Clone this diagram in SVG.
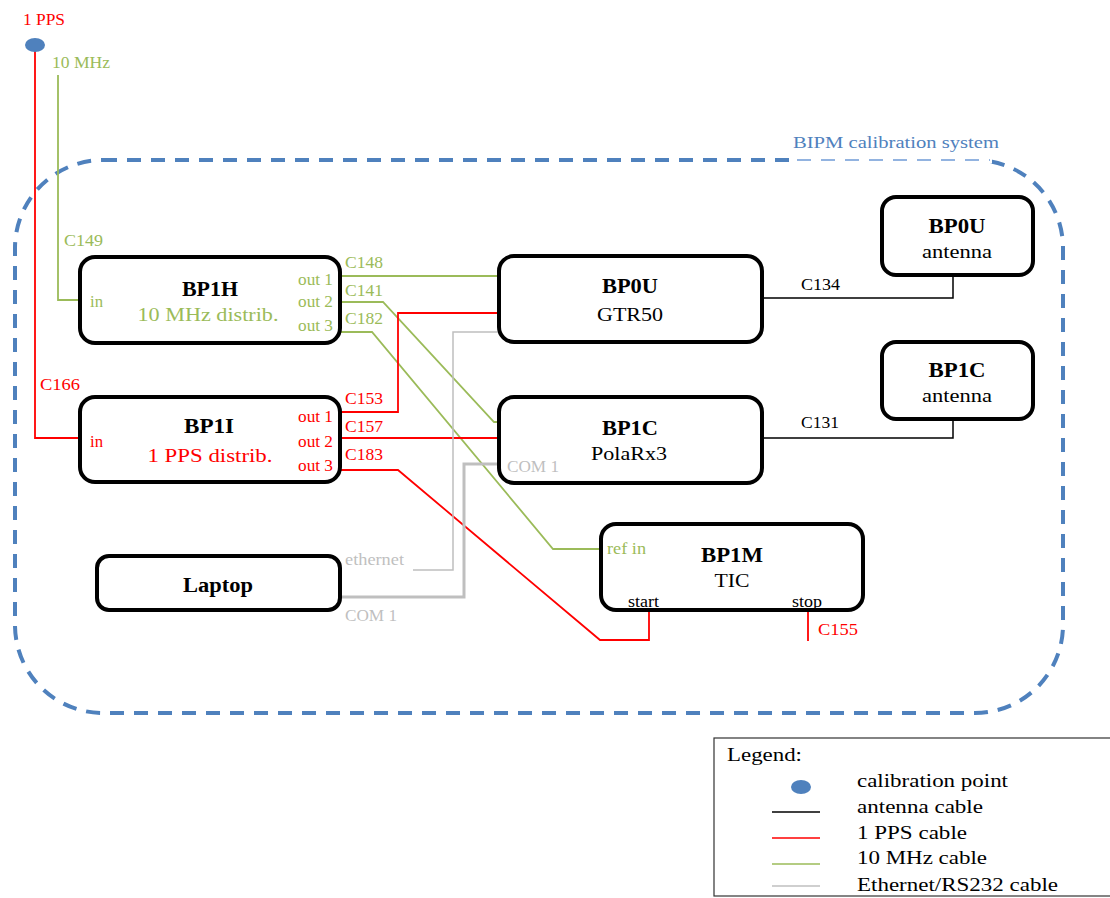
<svg xmlns="http://www.w3.org/2000/svg" width="1110" height="898" viewBox="0 0 1110 898" font-family="'Liberation Serif', 'DejaVu Serif', 'Times New Roman', serif">
<style>
text{font-family:'Liberation Serif','DejaVu Serif','Times New Roman',serif;}
.box{fill:#fff;stroke:#000;stroke-width:4;}
.t{font-size:20px;font-weight:bold;text-anchor:middle;fill:#000;}
.s{font-size:19px;text-anchor:middle;fill:#000;}
.p{font-size:16px;}
.r{fill:#ff0000;}
.g{fill:#9bbb59;}
.gy{fill:#bfbfbf;}
.k{fill:#000;}
.cr{fill:none;stroke:#ff0000;stroke-width:1.8;}
.cg{fill:none;stroke:#9bbb59;stroke-width:1.8;}
.ck{fill:none;stroke:#000;stroke-width:1.5;}
.cy{fill:none;stroke:#bfbfbf;stroke-width:1.5;}
.cy2{fill:none;stroke:#bfbfbf;stroke-width:3;}
.lg{font-size:19px;fill:#000;}
</style>

<g id="boundary">
<rect x="15" y="160" width="1048" height="553" rx="88" ry="88" fill="none" stroke="#4f81bd" stroke-width="4" stroke-dasharray="14 10"/>
<line x1="790" y1="160" x2="992" y2="160" stroke="#fff" stroke-width="7"/>
<line x1="797" y1="160" x2="990" y2="160" stroke="#6f9bd6" stroke-width="1.5" stroke-dasharray="14 10"/>
<text x="793" y="148" font-size="16" fill="#4f81bd" textLength="206" lengthAdjust="spacingAndGlyphs">BIPM calibration system</text>
</g>

<g id="connectors">
<path class="cr" d="M35,50 V438 H80"/>
<path class="cg" d="M58,75 V300 H80"/>
<path class="cg" d="M340,276 H499"/>
<path class="cg" d="M340,302 H383 L494,422 H499"/>
<path class="cg" d="M340,332 H372 L553,549 H601"/>
<path class="cr" d="M340,412 H398 V313 H499"/>
<path class="cr" d="M340,438 H499"/>
<path class="cr" d="M340,470 H398 L600,640 H649 V610"/>
<path class="cr" d="M808,610 V641"/>
<path class="ck" d="M762,298 H953 V275"/>
<path class="ck" d="M762,438 H953 V419"/>
<path class="cy" d="M413,570 H453 V332 H499"/>
<path class="cy2" d="M340,597 H464 V464 H499"/>
</g>

<g id="calpoint">
<ellipse cx="35" cy="45" rx="10" ry="7" fill="#4f81bd"/>
<text x="23" y="25" class="p r" textLength="42" lengthAdjust="spacingAndGlyphs">1 PPS</text>
<text x="52" y="68" class="p g" textLength="58" lengthAdjust="spacingAndGlyphs">10 MHz</text>
<text x="64" y="246" class="p g" textLength="39" lengthAdjust="spacingAndGlyphs">C149</text>
<text x="40" y="390" class="p r" textLength="40" lengthAdjust="spacingAndGlyphs">C166</text>
</g>

<g id="BP1H">
<rect class="box" x="80" y="257" width="260" height="86" rx="15"/>
<text class="t" x="210" y="296" textLength="56" lengthAdjust="spacingAndGlyphs">BP1H</text>
<text class="s g" x="208" y="321" textLength="141" lengthAdjust="spacingAndGlyphs">10 MHz distrib.</text>
<text class="p g" x="90" y="307" textLength="13" lengthAdjust="spacingAndGlyphs">in</text>
<text class="p g" x="298" y="285" textLength="35" lengthAdjust="spacingAndGlyphs">out 1</text>
<text class="p g" x="298" y="307" textLength="35" lengthAdjust="spacingAndGlyphs">out 2</text>
<text class="p g" x="298" y="331" textLength="35" lengthAdjust="spacingAndGlyphs">out 3</text>
<text class="p g" x="345" y="268" textLength="38" lengthAdjust="spacingAndGlyphs">C148</text>
<text class="p g" x="345" y="296" textLength="38" lengthAdjust="spacingAndGlyphs">C141</text>
<text class="p g" x="345" y="324" textLength="38" lengthAdjust="spacingAndGlyphs">C182</text>
</g>

<g id="BP1I">
<rect class="box" x="80" y="397" width="260" height="85" rx="15"/>
<text class="t" x="209" y="433" textLength="50" lengthAdjust="spacingAndGlyphs">BP1I</text>
<text class="s r" x="210" y="462" textLength="125" lengthAdjust="spacingAndGlyphs">1 PPS distrib.</text>
<text class="p r" x="90" y="447" textLength="13" lengthAdjust="spacingAndGlyphs">in</text>
<text class="p r" x="298" y="422" textLength="35" lengthAdjust="spacingAndGlyphs">out 1</text>
<text class="p r" x="298" y="447" textLength="35" lengthAdjust="spacingAndGlyphs">out 2</text>
<text class="p r" x="298" y="471" textLength="35" lengthAdjust="spacingAndGlyphs">out 3</text>
<text class="p r" x="345" y="404" textLength="38" lengthAdjust="spacingAndGlyphs">C153</text>
<text class="p r" x="345" y="432" textLength="38" lengthAdjust="spacingAndGlyphs">C157</text>
<text class="p r" x="345" y="460" textLength="38" lengthAdjust="spacingAndGlyphs">C183</text>
</g>

<g id="BP0U-GTR50">
<rect class="box" x="499" y="256" width="263" height="86" rx="15"/>
<text class="t" x="630" y="293" textLength="56" lengthAdjust="spacingAndGlyphs">BP0U</text>
<text class="s" x="630" y="321" textLength="66" lengthAdjust="spacingAndGlyphs">GTR50</text>
<text class="p k" x="801" y="290" textLength="39" lengthAdjust="spacingAndGlyphs">C134</text>
</g>

<g id="BP1C-PolaRx3">
<rect class="box" x="499" y="397" width="263" height="86" rx="15"/>
<text class="t" x="630" y="435" textLength="56" lengthAdjust="spacingAndGlyphs">BP1C</text>
<text class="s" x="629" y="460" textLength="76" lengthAdjust="spacingAndGlyphs">PolaRx3</text>
<text class="p gy" x="507" y="472" textLength="52" lengthAdjust="spacingAndGlyphs">COM 1</text>
<text class="p k" x="801" y="428" textLength="38" lengthAdjust="spacingAndGlyphs">C131</text>
</g>

<g id="BP0U-antenna">
<rect class="box" x="882" y="197" width="151" height="78" rx="14"/>
<text class="t" x="957" y="233" textLength="57" lengthAdjust="spacingAndGlyphs">BP0U</text>
<text class="s" x="957" y="258" font-size="17" textLength="70" lengthAdjust="spacingAndGlyphs">antenna</text>
</g>

<g id="BP1C-antenna">
<rect class="box" x="882" y="342" width="151" height="77" rx="14"/>
<text class="t" x="957" y="377" textLength="57" lengthAdjust="spacingAndGlyphs">BP1C</text>
<text class="s" x="957" y="402" font-size="17" textLength="70" lengthAdjust="spacingAndGlyphs">antenna</text>
</g>

<g id="Laptop">
<rect class="box" x="97" y="556" width="243" height="54" rx="12"/>
<text class="t" x="218" y="592" textLength="70" lengthAdjust="spacingAndGlyphs">Laptop</text>
<text class="p gy" x="345" y="565" textLength="59" lengthAdjust="spacingAndGlyphs">ethernet</text>
<text class="p gy" x="345" y="621" textLength="52" lengthAdjust="spacingAndGlyphs">COM 1</text>
</g>

<g id="BP1M">
<rect class="box" x="601" y="524" width="262" height="86" rx="15"/>
<text class="t" x="732" y="562" textLength="62" lengthAdjust="spacingAndGlyphs">BP1M</text>
<text class="s" x="732" y="587" textLength="35" lengthAdjust="spacingAndGlyphs">TIC</text>
<text class="p g" x="607" y="554" textLength="39" lengthAdjust="spacingAndGlyphs">ref in</text>
<text class="p k" x="628" y="607" font-size="14" textLength="31" lengthAdjust="spacingAndGlyphs">start</text>
<text class="p k" x="792" y="607" font-size="14" textLength="30" lengthAdjust="spacingAndGlyphs">stop</text>
<text class="p r" x="818" y="635" textLength="40" lengthAdjust="spacingAndGlyphs">C155</text>
</g>

<g id="legend">
<rect x="714" y="738" width="402" height="158" fill="#fff" stroke="#333" stroke-width="1.2"/>
<text class="lg" x="727" y="761" textLength="75" lengthAdjust="spacingAndGlyphs">Legend:</text>
<ellipse cx="801" cy="787" rx="10" ry="7" fill="#4f81bd"/>
<text class="lg" x="857" y="787" textLength="151" lengthAdjust="spacingAndGlyphs">calibration point</text>
<line x1="772" y1="812" x2="820" y2="812" stroke="#000" stroke-width="1.5"/>
<text class="lg" x="857" y="813" textLength="126" lengthAdjust="spacingAndGlyphs">antenna cable</text>
<line x1="772" y1="838" x2="820" y2="838" stroke="#ff0000" stroke-width="1.5"/>
<text class="lg" x="857" y="839" textLength="110" lengthAdjust="spacingAndGlyphs">1 PPS cable</text>
<line x1="772" y1="864" x2="820" y2="864" stroke="#9bbb59" stroke-width="1.5"/>
<text class="lg" x="857" y="864" textLength="130" lengthAdjust="spacingAndGlyphs">10 MHz cable</text>
<line x1="772" y1="886" x2="820" y2="886" stroke="#bfbfbf" stroke-width="1.5"/>
<text class="lg" x="857" y="891" textLength="201" lengthAdjust="spacingAndGlyphs">Ethernet/RS232 cable</text>
</g>
</svg>
